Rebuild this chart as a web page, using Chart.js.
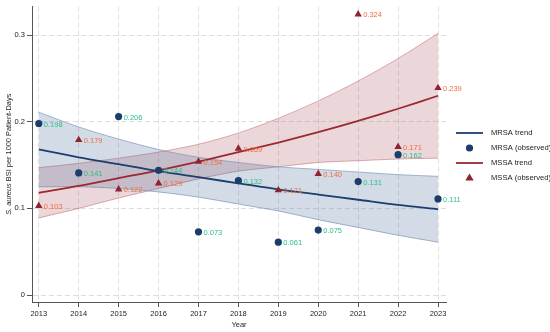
<!DOCTYPE html>
<html>
<head>
<meta charset="utf-8">
<script src="https://cdn.jsdelivr.net/npm/chart.js@4.4.1/dist/chart.umd.min.js"></script>
<style>
  html, body { margin: 0; padding: 0; background: #ffffff; }
  #wrap { width: 550px; height: 332px; position: relative; }
</style>
</head>
<body>
<div id="wrap"><canvas id="c" width="550" height="332"></canvas></div>
<script>
// ---- data ----
const years = [2013, 2014, 2015, 2016, 2017, 2018, 2019, 2020, 2021, 2022, 2023];
const mrsaObserved = [0.198, 0.141, 0.206, 0.144, 0.073, 0.132, 0.061, 0.075, 0.131, 0.162, 0.111];
const mssaObserved = [0.103, 0.179, 0.122, 0.129, 0.154, 0.169, 0.121, 0.140, 0.324, 0.171, 0.239];
const mrsaTrend = [0.168, 0.159, 0.151, 0.143, 0.136, 0.129, 0.122, 0.116, 0.110, 0.104, 0.099];
const mrsaUpper = [0.211, 0.194, 0.180, 0.168, 0.159, 0.153, 0.148, 0.145, 0.142, 0.139, 0.137];
const mrsaLower = [0.125, 0.125, 0.123, 0.119, 0.113, 0.105, 0.097, 0.087, 0.078, 0.069, 0.061];
const mssaTrend = [0.118, 0.126, 0.135, 0.144, 0.154, 0.165, 0.176, 0.188, 0.201, 0.215, 0.230];
const mssaUpper = [0.147, 0.152, 0.158, 0.165, 0.174, 0.187, 0.204, 0.224, 0.247, 0.273, 0.302];
const mssaLower = [0.089, 0.100, 0.112, 0.123, 0.134, 0.143, 0.148, 0.153, 0.155, 0.157, 0.158];
const yTickValues = [0, 0.1, 0.2, 0.3];
const yTickLabels = ['0', '0.1', '0.2', '0.3'];
const legendLabels = ['MRSA trend', 'MRSA (observed)', 'MSSA trend', 'MSSA (observed)'];

const FONT = "'Liberation Sans', Arial, Helvetica, sans-serif";
const C = {
  mrsaLine: '#1c3e6e', mrsaPt: '#1b3d6b', mrsaLbl: '#2bbf86',
  mssaLine: '#9c2832', mssaPt: '#8e2430', mssaLbl: '#f26d40',
  mrsaFill: 'rgba(70,105,150,0.24)', mrsaEdge: 'rgba(110,140,175,0.75)',
  mssaFill: 'rgba(165,70,80,0.22)', mssaEdge: 'rgba(200,120,130,0.75)'
};

const pts = arr => years.map((y, i) => ({ x: y, y: arr[i] }));

const datasets = [
  { label: 'MRSA (observed)', data: pts(mrsaObserved), showLine: false, pointStyle: 'circle',
    pointRadius: 3.6, pointBackgroundColor: C.mrsaPt, pointBorderColor: C.mrsaPt, pointBorderWidth: 0 },
  { label: 'MSSA (observed)', data: pts(mssaObserved), showLine: false, pointStyle: 'triangle',
    pointRadius: 4.3, pointBackgroundColor: C.mssaPt, pointBorderColor: C.mssaPt, pointBorderWidth: 0 },
  { label: 'MRSA trend', data: pts(mrsaTrend), borderColor: C.mrsaLine, borderWidth: 1.8, pointRadius: 0, fill: false },
  { label: 'MSSA trend', data: pts(mssaTrend), borderColor: C.mssaLine, borderWidth: 1.8, pointRadius: 0, fill: false },
  { label: 'mrsaU', data: pts(mrsaUpper), borderColor: C.mrsaEdge, borderWidth: 0.8, pointRadius: 0,
    backgroundColor: C.mrsaFill, fill: '+1' },
  { label: 'mrsaL', data: pts(mrsaLower), borderColor: C.mrsaEdge, borderWidth: 0.8, pointRadius: 0, fill: false },
  { label: 'mssaU', data: pts(mssaUpper), borderColor: C.mssaEdge, borderWidth: 0.8, pointRadius: 0,
    backgroundColor: C.mssaFill, fill: '+1' },
  { label: 'mssaL', data: pts(mssaLower), borderColor: C.mssaEdge, borderWidth: 0.8, pointRadius: 0, fill: false }
];

const extras = {
  id: 'extras',
  afterDatasetsDraw(chart) {
    const ctx = chart.ctx;
    ctx.save();
    ctx.font = '7.5px ' + FONT;
    ctx.textAlign = 'left';
    ctx.textBaseline = 'middle';
    [[0, mrsaObserved, C.mrsaLbl], [1, mssaObserved, C.mssaLbl]].forEach(([di, vals, col]) => {
      const meta = chart.getDatasetMeta(di);
      ctx.fillStyle = col;
      meta.data.forEach((el, j) => ctx.fillText(vals[j].toFixed(3), el.x + 5, el.y + 1));
    });
    ctx.restore();
  },
  afterDraw(chart) {
    const ctx = chart.ctx;
    const area = chart.chartArea;
    ctx.save();
    // y axis title with italic species name
    ctx.translate(9, (area.top + area.bottom) / 2);
    ctx.rotate(-Math.PI / 2);
    ctx.textBaseline = 'middle';
    ctx.fillStyle = '#222';
    const p1 = 'S. aureus', p2 = ' BSI per 1000 Patient-Days';
    ctx.font = 'italic 7.4px ' + FONT;
    const w1 = ctx.measureText(p1).width;
    ctx.font = '7.4px ' + FONT;
    const w2 = ctx.measureText(p2).width;
    let x0 = -(w1 + w2) / 2;
    ctx.font = 'italic 7.4px ' + FONT;
    ctx.textAlign = 'left';
    ctx.fillText(p1, x0, 0);
    ctx.font = '7.4px ' + FONT;
    ctx.fillText(p2, x0 + w1, 0);
    ctx.restore();

    // legend
    ctx.save();
    const ly = [133, 148, 163, 177.5];
    const lx0 = 456, lx1 = 483, tx = 491;
    ctx.font = '7.6px ' + FONT;
    ctx.textBaseline = 'middle';
    ctx.fillStyle = '#222';
    legendLabels.forEach((t, i) => ctx.fillText(t, tx, ly[i]));
    ctx.lineWidth = 1.8;
    ctx.strokeStyle = C.mrsaLine;
    ctx.beginPath(); ctx.moveTo(lx0, ly[0]); ctx.lineTo(lx1, ly[0]); ctx.stroke();
    ctx.strokeStyle = C.mssaLine;
    ctx.beginPath(); ctx.moveTo(lx0, ly[2]); ctx.lineTo(lx1, ly[2]); ctx.stroke();
    const cx = (lx0 + lx1) / 2;
    ctx.fillStyle = C.mrsaPt;
    ctx.beginPath(); ctx.arc(cx, ly[1], 3.6, 0, Math.PI * 2); ctx.fill();
    ctx.fillStyle = C.mssaPt;
    ctx.beginPath();
    ctx.moveTo(cx, ly[3] - 4); ctx.lineTo(cx + 4.2, ly[3] + 3); ctx.lineTo(cx - 4.2, ly[3] + 3);
    ctx.closePath(); ctx.fill();
    ctx.restore();
  }
};

new Chart(document.getElementById('c'), {
  type: 'line',
  data: { datasets },
  plugins: [extras],
  options: {
    responsive: false,
    animation: false,
    devicePixelRatio: 1,
    layout: { padding: { left: 0, top: 5, right: 104, bottom: 0 } },
    plugins: { legend: { display: false }, tooltip: { enabled: false } },
    elements: { line: { tension: 0.3 } },
    scales: {
      x: {
        type: 'linear', min: 2012.83, max: 2023.2,
        afterBuildTicks: s => { s.ticks = years.map(v => ({ value: v })); },
        afterFit: s => { s.height = 30; },
        ticks: { callback: v => String(v), font: { family: FONT, size: 7.5 }, color: '#222', padding: 2, maxRotation: 0, autoSkip: false },
        grid: { color: '#dedede', lineWidth: 1, drawTicks: true, tickLength: 5, tickColor: '#555', tickWidth: 1 },
        border: { display: true, color: '#555', width: 1, dash: [5, 3] },
        title: { display: true, text: 'Year', font: { family: FONT, size: 7.5 }, color: '#222', padding: { top: 0, bottom: 3 } }
      },
      y: {
        type: 'linear', min: -0.008, max: 0.333,
        afterBuildTicks: s => { s.ticks = yTickValues.map(v => ({ value: v })); },
        afterFit: s => { s.width = 32; },
        ticks: { callback: (v, i) => yTickLabels[i], font: { family: FONT, size: 7.5 }, color: '#222', padding: 2 },
        grid: { color: '#dedede', lineWidth: 1, drawTicks: true, tickLength: 5, tickColor: '#555', tickWidth: 1 },
        border: { display: true, color: '#555', width: 1, dash: [5, 3] }
      }
    }
  }
});
</script>
</body>
</html>
